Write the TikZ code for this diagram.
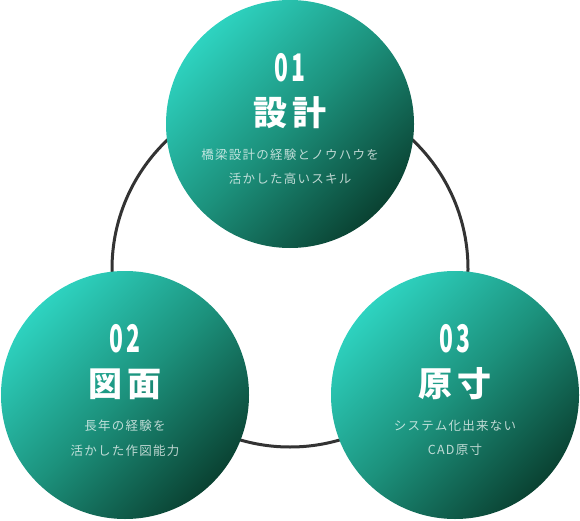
\documentclass[tikz,border=0pt]{standalone}
\usepackage{fontspec}
\newfontfamily\jpfont{Noto Sans CJK JP}
\newfontfamily\numfont{Noto Sans CJK JP}[FakeStretch=0.6]
\newfontfamily\descfont{Noto Sans CJK JP}[LetterSpace=10]
\definecolor{gA}{HTML}{2ED3C0}
\definecolor{gM}{HTML}{1C917C}
\definecolor{gB}{HTML}{0A4232}
\definecolor{ringc}{HTML}{333333}
\tikzset{
  disc/.style={circle, inner sep=0pt, minimum size=248pt, top color=gA, bottom color=gB, middle color=gM, shading angle=45},
  num/.style={font=\numfont\bfseries\fontsize{38}{38}\selectfont, text=white, inner sep=0pt},
  ttl/.style={font=\jpfont\bfseries\fontsize{34}{35}\selectfont, text=white, inner sep=0pt},
  desc/.style={font=\descfont\fontsize{12.5}{24.5}\selectfont, text=white, text opacity=0.72, align=center, inner sep=0pt},
  ring/.style={draw=ringc, line width=3pt}
}
\begin{document}
\begin{tikzpicture}[x=1pt,y=1pt]
\useasboundingbox (0,0) rectangle (580,520);
\coordinate (rc) at (290,251);
\draw[ring] (rc) circle (178);
\node[disc] (c1) at (290,396) {};
\node[disc] (c2) at (125,125) {};
\node[disc] (c3) at (455,125) {};
\foreach \c/\n/\t/\d in {c1/0\kern3pt 1/設\kern5pt 計/{橋梁設計の経験とノウハウを\\活かした高いスキル},
                         c2/0\kern3pt 2/図\kern5pt 面/{長年の経験を\\活かした作図能力},
                         c3/0\kern3pt 3/原\kern5pt 寸/{システム化出来ない\\CAD原寸}}{
  \node[num] (\c n) at ([yshift=56]\c.center) {\n};
  \node[ttl] (\c t) at ([yshift=11]\c.center) {\t};
  \node[desc] (\c d) at ([yshift=-43]\c.center) {\d};
}
\end{tikzpicture}
\end{document}
